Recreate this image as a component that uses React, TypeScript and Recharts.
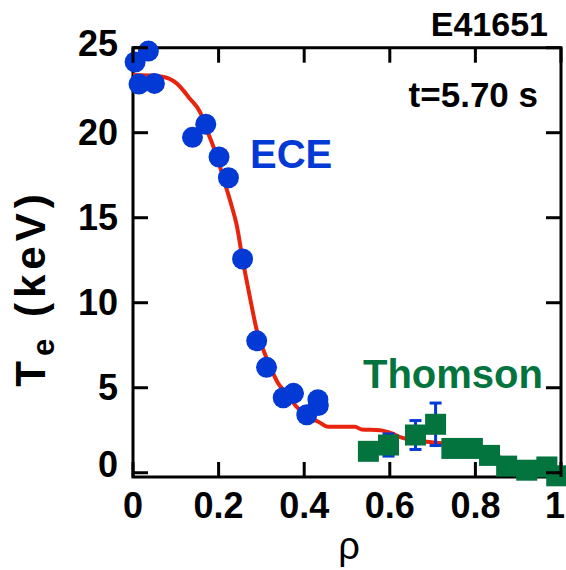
import React from "react";
import {
  ComposedChart,
  Line,
  Scatter,
  XAxis,
  YAxis,
  ErrorBar,
  ReferenceArea,
} from "recharts";

// ECE electron temperature points
const eceRho = [0.005, 0.036, 0.014, 0.05, 0.17, 0.139, 0.201, 0.223, 0.256, 0.289, 0.312, 0.351, 0.375, 0.406, 0.432, 0.433];
const eceTe = [24.16, 24.8, 22.86, 22.9, 20.5, 19.73, 18.57, 17.35, 12.57, 7.76, 6.2, 4.41, 4.67, 3.41, 4.3, 3.95];

// Thomson scattering points with their uncertainty
const thomsonRho = [0.55, 0.597, 0.66, 0.707, 0.745, 0.793, 0.833, 0.873, 0.92, 0.967, 0.99];
const thomsonTe = [1.26, 1.63, 2.22, 2.85, 1.43, 1.43, 1.02, 0.39, 0.15, 0.34, -0.18];
const thomsonErr = [0.4, 0.65, 0.85, 1.25, 0, 0, 0, 0, 0, 0, 0];

// Fitted profile
const fitRho = [0, 0.05, 0.083, 0.102, 0.133, 0.157, 0.172, 0.196, 0.215, 0.231, 0.242, 0.256, 0.273, 0.289, 0.308, 0.324, 0.339, 0.359, 0.382, 0.414, 0.433, 0.456, 0.519, 0.534, 0.577, 0.608, 0.628, 0.686, 0.721, 0.76, 0.8, 0.85, 0.9, 0.95, 1.0];
const fitTe = [23.4, 23.35, 23.2, 22.9, 22.0, 21.2, 20.2, 18.6, 17.0, 15.65, 14.6, 12.57, 10.35, 8.4, 7.0, 6.04, 5.26, 4.67, 3.88, 3.2, 3.0, 2.7, 2.7, 2.55, 2.5, 2.28, 2.06, 1.82, 1.73, 1.55, 1.3, 0.95, 0.6, 0.35, 0.2];

const xTicks = [0, 0.2, 0.4, 0.6, 0.8, 1];
const yTicks = [0, 5, 10, 15, 20, 25];
const xDomain: [number, number] = [0, 1];
const yDomain: [number, number] = [-0.25, 25];

const eceData = eceRho.map((rho, i) => ({ rho, te: eceTe[i] }));
const thomsonData = thomsonRho.map((rho, i) => ({ rho, te: thomsonTe[i], err: thomsonErr[i] }));
const fitData = fitRho.map((rho, i) => ({ rho, te: fitTe[i] }));

const W = 566;
const H = 570;
const M = { top: 47.7, right: 5, bottom: 0, left: 0 };
const Y_AXIS_W = 133;
const X_AXIS_H = 93;
const PLOT_W = W - M.left - M.right - Y_AXIS_W;
const PLOT_H = H - M.top - M.bottom - X_AXIS_H;
const TICK_LEN = 15;

const BLUE = "#0339d4";
const GREEN = "#04743f";
const RED = "#e8240e";
const FONT = "'Liberation Sans', Arial, Helvetica, sans-serif";

const XTick = (props: any) => {
  const { x, y, payload, index } = props;
  // the last label sits at the page edge; keep it fully inside
  const isLast = index === xTicks.length - 1;
  return (
    <g>
      <line x1={x} x2={x} y1={y} y2={y - TICK_LEN} stroke="#000" strokeWidth={3} />
      <line x1={x} x2={x} y1={y - PLOT_H} y2={y - PLOT_H + TICK_LEN} stroke="#000" strokeWidth={3} />
      <text
        x={isLast ? W - 1 : x}
        y={y + 41}
        textAnchor={isLast ? "end" : "middle"}
        fontFamily={FONT}
        fontWeight="bold"
        fontSize={36}
        fill="#000"
      >
        {String(payload.value)}
      </text>
    </g>
  );
};

const yLabelShift: Record<number, number> = { 0: -9, 25: -5 };

const YTick = (props: any) => {
  const { x, y, payload } = props;
  const shift = yLabelShift[payload.value] ?? -1;
  return (
    <g>
      <line x1={x} x2={x + TICK_LEN} y1={y} y2={y} stroke="#000" strokeWidth={3} />
      <line x1={x + PLOT_W} x2={x + PLOT_W - TICK_LEN} y1={y} y2={y} stroke="#000" strokeWidth={3} />
      <text x={x - 15} y={y + shift + 13} textAnchor="end" fontFamily={FONT} fontWeight="bold" fontSize={36} fill="#000">
        {String(payload.value)}
      </text>
    </g>
  );
};

const EceDot = (p: any) => <circle cx={p.cx} cy={p.cy} r={10.5} fill={BLUE} />;
const ThomsonSquare = (p: any) => (
  <rect x={p.cx - 10.5} y={p.cy - 10.5} width={21} height={21} fill={GREEN} />
);

export default function App() {
  return (
    <div style={{ position: "relative", width: W, height: H }}>
      <style>{`body{margin:0}`}</style>
      <ComposedChart width={W} height={H} margin={M}>
        <XAxis
          type="number"
          dataKey="rho"
          domain={xDomain}
          ticks={xTicks}
          height={X_AXIS_H}
          axisLine={false}
          tickLine={false}
          tickSize={0}
          tickMargin={0}
          tick={<XTick />}
          interval={0}
        />
        <YAxis
          type="number"
          dataKey="te"
          domain={yDomain}
          ticks={yTicks}
          width={Y_AXIS_W}
          axisLine={false}
          tickLine={false}
          tickSize={0}
          tickMargin={0}
          tick={<YTick />}
          interval={0}
        />
        <ReferenceArea
          x1={xDomain[0]}
          x2={xDomain[1]}
          y1={yDomain[0]}
          y2={yDomain[1]}
          fill="none"
          fillOpacity={0}
          stroke="#000"
          strokeWidth={3}
        />
        <Line
          data={fitData}
          dataKey="te"
          type="monotone"
          stroke={RED}
          strokeWidth={4}
          dot={false}
          isAnimationActive={false}
        />
        <Scatter data={eceData} dataKey="te" shape={EceDot} isAnimationActive={false} />
        <Scatter data={thomsonData} dataKey="te" shape={ThomsonSquare} isAnimationActive={false}>
          <ErrorBar dataKey="err" direction="y" stroke={BLUE} strokeWidth={3} width={6} />
        </Scatter>
      </ComposedChart>
      <svg
        width={W}
        height={H}
        style={{ position: "absolute", left: 0, top: 0, pointerEvents: "none" }}
      >
        <g fontFamily={FONT} fontWeight="bold">
          <text x={548} y={36} textAnchor="end" fontSize={34} fill="#000">E41651</text>
          <text x={538} y={107} textAnchor="end" fontSize={35} fill="#000">t=5.70 s</text>
          <text x={250} y={168} fontSize={40} fill={BLUE}>ECE</text>
          <text x={363} y={388} fontSize={40} fill={GREEN}>Thomson</text>
          <text
            transform="translate(45, 288) rotate(-90)"
            textAnchor="middle"
            fontSize={42}
            letterSpacing={5}
            fill="#000"
          >
            T<tspan fontSize={31} dy={9}>e</tspan>
            <tspan dy={-9} fontSize={42}> (keV)</tspan>
          </text>
        </g>
        <text x={349} y={559} textAnchor="middle" fontFamily={FONT} fontSize={38} fill="#000">ρ</text>
      </svg>
    </div>
  );
}
